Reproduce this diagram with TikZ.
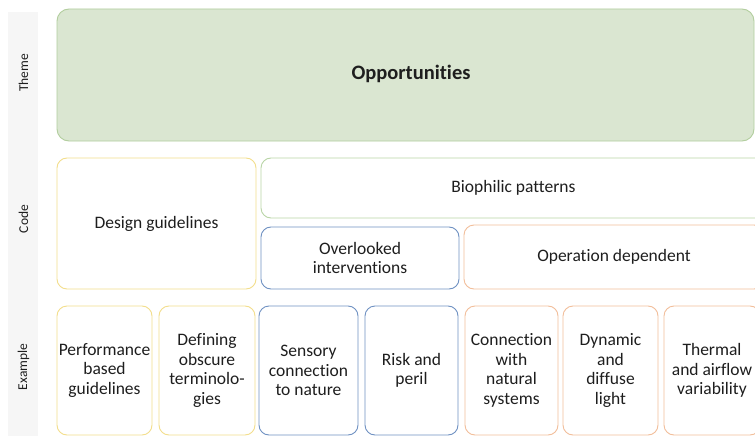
\documentclass[tikz,border=0pt]{standalone}
\usepackage{fontspec}
\setmainfont{Carlito}[Ligatures=NoCommon]
\definecolor{stripgray}{HTML}{F6F6F6}
\definecolor{gfill}{HTML}{DAE6D1}
\definecolor{gdraw}{HTML}{B2CE9E}
\definecolor{gline}{HTML}{B9D5A6}
\definecolor{ydraw}{HTML}{F3DE8C}
\definecolor{bdraw}{HTML}{6F91C2}
\definecolor{odraw}{HTML}{F2BE9A}
\definecolor{txt}{HTML}{1E1E1E}
\tikzset{
  box/.style={draw, line width=0.9pt, rounded corners=10pt, inner sep=0pt, align=center,
    text=txt, font=\fontsize{17.5}{19.5}\selectfont},
  ybox/.style={box, draw=ydraw},
  bbox/.style={box, draw=bdraw},
  obox/.style={box, draw=odraw},
  gbox/.style={box, draw=gline},
  rowlabel/.style={rotate=90, text=txt, font=\fontsize{13.5}{15}\selectfont, inner sep=0pt},
}
\begin{document}
\begin{tikzpicture}[x=1pt,y=-1pt]
\clip (0,0) rectangle (755,436);
\fill[white] (0,0) rectangle (755,436);
% left strip
\fill[stripgray] (8,12) rectangle (38,436);
\node[rowlabel] (lt) at (23.5,73) {Theme};
\node[rowlabel] (lc) at (23.5,219) {Code};
\node[rowlabel] (le) at (23.5,367) {Example};
% theme
\node[box, draw=gdraw, fill=gfill, rounded corners=12pt, minimum width=697pt, minimum height=132pt] (opp) at (405.5,75) {};
\node[text=txt, font=\fontsize{20.5}{24}\selectfont\bfseries] (oppt) at (411,74) {Opportunities};
% code row
\node[ybox, minimum width=199pt, minimum height=131pt] (dg) at (156.5,223.5) {Design guidelines};
\node[gbox, minimum width=505pt, minimum height=60pt] (bp) at (513.5,188) {Biophilic patterns};
\node[bbox, minimum width=198pt, minimum height=62pt] (oi) at (360,258) {Overlooked\\interventions};
\node[obox, minimum width=300pt, minimum height=64pt] (od) at (614,257) {Operation dependent};
% example row
\node[ybox, minimum width=95pt, minimum height=129pt] (e1) at (104.5,370.5) {Performance\\based\\guidelines};
\node[ybox, minimum width=96pt, minimum height=129pt] (e2) at (207,370.5) {Defining\\obscure\\terminolo-\\gies};
\node[bbox, minimum width=99pt, minimum height=129pt] (e3) at (308.5,370.5) {Sensory\\connection\\to nature};
\node[bbox, minimum width=93pt, minimum height=129pt] (e4) at (411.5,370.5) {Risk and\\peril};
\node[obox, minimum width=93pt, minimum height=129pt] (e5) at (511.5,370.5) {Connection\\with\\natural\\systems};
\node[obox, minimum width=95pt, minimum height=129pt] (e6) at (610.5,370.5) {Dynamic\\and\\diffuse\\light};
\node[obox, minimum width=96pt, minimum height=129pt] (e7) at (712,370.5) {Thermal\\and airflow\\variability};
\end{tikzpicture}
\end{document}
